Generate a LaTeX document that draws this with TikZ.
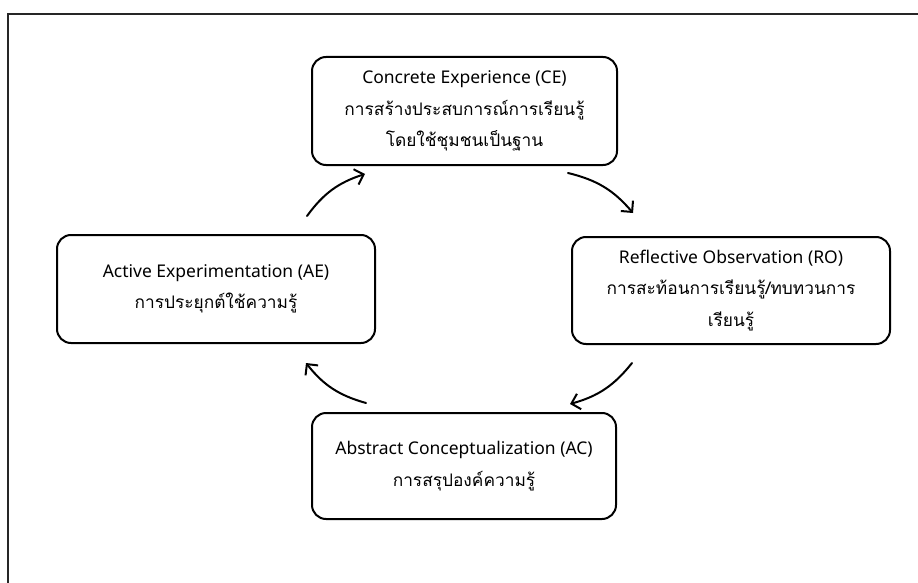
\documentclass[tikz,border=0pt]{standalone}
\usepackage{fontspec}
\setmainfont{Noto Sans}
\newfontfamily\thaifont[Script=Thai]{Loma}
\usetikzlibrary{arrows.meta}
\tikzset{
  stagebox/.style={draw=black, line width=2pt, rounded corners=14pt, align=center,
    inner sep=0pt, font=\fontsize{17.5}{31.5}\selectfont},
  cyclearrow/.style={line width=2pt, -{Straight Barb[length=8pt,width=16pt,line width=2pt]}, line cap=round},
  framestyle/.style={line width=2pt, draw=black!85}
}
\newcommand{\thtxt}[1]{{\thaifont\fontsize{17.3}{31.5}\selectfont #1}}
\begin{document}
\begin{tikzpicture}[x=1pt,y=-1pt]
\useasboundingbox (0,0) rectangle (918,583);
\coordinate (fr-tr) at (918,14);
\coordinate (fr-tl) at (8,14);
\coordinate (fr-bl) at (8,583);
\draw[framestyle] (fr-tr) -- (fr-tl) -- (fr-bl);

\node[stagebox, minimum width=305pt, minimum height=108pt] (ce) at (464.5,111)
  {Concrete Experience (CE)\\ \thtxt{การสร้างประสบการณ์การเรียนรู้}\\ \thtxt{โดยใช้ชุมชนเป็นฐาน}};
\node[stagebox, minimum width=318pt, minimum height=107pt] (ro) at (731,290.5)
  {Reflective Observation (RO)\\ \thtxt{การสะท้อนการเรียนรู้/ทบทวนการ}\\ \thtxt{เรียนรู้}};
\node[stagebox, minimum width=304pt, minimum height=106pt] (ac) at (464,466)
  {Abstract Conceptualization (AC)\\ \thtxt{การสรุปองค์ความรู้}};
\node[stagebox, minimum width=318pt, minimum height=108pt] (ae) at (216,289)
  {Active Experimentation (AE)\\ \thtxt{การประยุกต์ใช้ความรู้}};

\coordinate (a1s) at (307,216);
\coordinate (a1e) at (365,174);
\coordinate (a2s) at (568,173);
\coordinate (a2e) at (633,213);
\coordinate (a3s) at (632,363);
\coordinate (a3e) at (570,404);
\coordinate (a4s) at (366,403);
\coordinate (a4e) at (306,363);
\draw[cyclearrow] (a1s) to[bend left=18] (a1e);
\draw[cyclearrow] (a2s) to[bend left=18] (a2e);
\draw[cyclearrow] (a3s) to[bend left=18] (a3e);
\draw[cyclearrow] (a4s) to[bend left=18] (a4e);
\end{tikzpicture}
\end{document}
